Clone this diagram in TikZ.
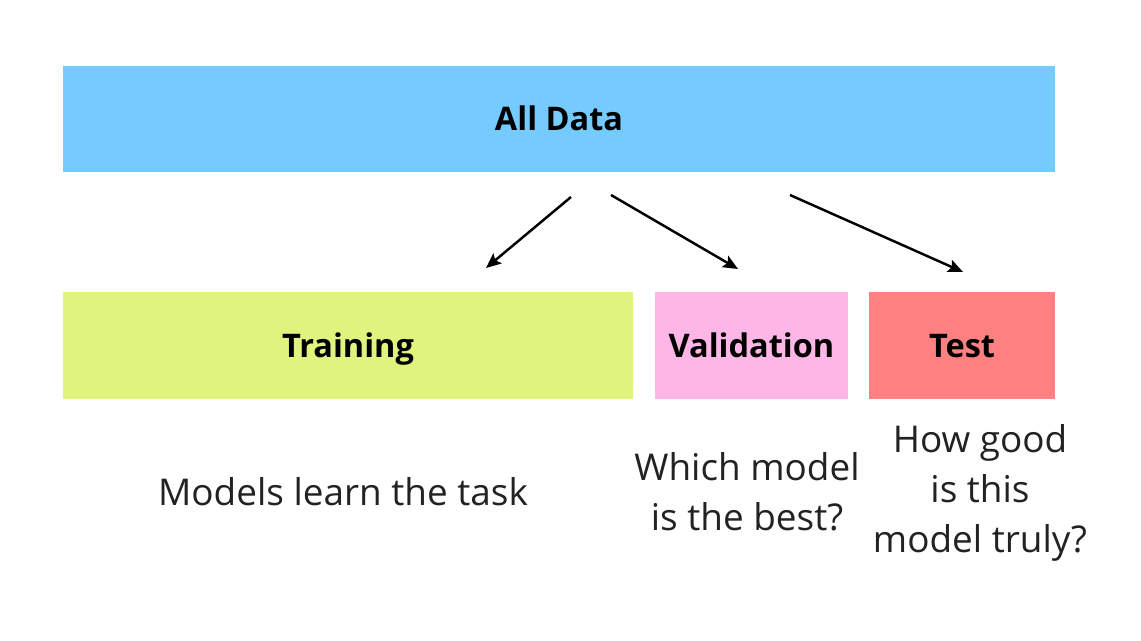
\documentclass[tikz,border=0pt]{standalone}
\usepackage{fontspec}
\setmainfont{Open Sans}
\usetikzlibrary{arrows.meta, positioning}

\definecolor{alldatablue}{HTML}{75CBFF}
\definecolor{traingreen}{HTML}{DFF37E}
\definecolor{valpink}{HTML}{FDB6E6}
\definecolor{testred}{HTML}{FF8080}
\definecolor{inkgray}{HTML}{222222}

\begin{document}
\begin{tikzpicture}[
    x=0.02cm, y=-0.02cm,
    split/.style={draw=none, rectangle, inner sep=0pt, align=center, text=black,
        text height=13.2pt, text depth=0pt,
        font=\fontsize{18.5}{22}\selectfont\bfseries},
    note/.style={align=center, text=inkgray, font=\fontsize{21}{28.5}\selectfont},
    arrow/.style={-{Stealth[length=3mm, width=2.6mm, inset=0.6mm]}, line width=1.4pt}
]

\useasboundingbox (0,0) rectangle (1141,641);

% Data boxes
\node[split, fill=alldatablue, minimum width=19.84cm, minimum height=2.12cm] (alldata) at (559,119) {All Data};
\node[split, fill=traingreen, minimum width=11.4cm, minimum height=2.14cm] (train) at (348,345.5) {Training};
\node[split, fill=valpink, minimum width=3.86cm, minimum height=2.14cm] (valid) at (751.5,345.5) {Validation};
\node[split, fill=testred, minimum width=3.72cm, minimum height=2.14cm] (test) at (962,345.5) {Test};

% Descriptions
\node[note] (trainnote) at (343,492) {Models learn the task};
\node[note] (validnote) at (747,492) {Which model\\is the best?};
\node[note] (testnote) at (980,493) {How good\\is this\\model truly?};

% Arrow ends
\coordinate (s1) at (571,197);
\coordinate (e1) at (486,268);
\coordinate (s2) at (611,195);
\coordinate (e2) at (738,269);
\coordinate (s3) at (790,195);
\coordinate (e3) at (963,272);

% Connections
\draw[arrow] (s1) -- (e1);
\draw[arrow] (s2) -- (e2);
\draw[arrow] (s3) -- (e3);

\end{tikzpicture}
\end{document}
